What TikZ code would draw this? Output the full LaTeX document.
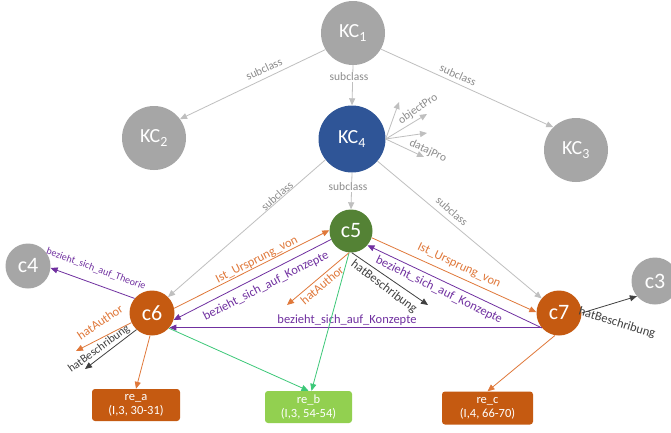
\documentclass[tikz,border=0pt]{standalone}
\usepackage{fontspec}
\setmainfont{Carlito}
\usetikzlibrary{arrows.meta}
\definecolor{kcgrey}{HTML}{A6A6A6}
\definecolor{kcblue}{HTML}{2F5597}
\definecolor{cgreen}{HTML}{548235}
\definecolor{corange}{HTML}{C55A11}
\definecolor{lgreen}{HTML}{92D050}
\definecolor{subgrey}{HTML}{BFBFBF}
\definecolor{sublbl}{HTML}{8C8C8C}
\definecolor{eorange}{HTML}{E0783A}
\definecolor{epurple}{HTML}{7030A0}
\definecolor{edark}{HTML}{404040}
\definecolor{egreen}{HTML}{3CC878}
\begin{document}
\begin{tikzpicture}[x=1pt,y=-1pt,
  kc/.style={circle, fill=kcgrey, text=white, minimum size=64pt, inner sep=0pt, font=\fontsize{20}{20}\selectfont},
  cn/.style={circle, text=white, minimum size=45pt, inner sep=0pt, font=\fontsize{22}{22}\selectfont},
  rbox/.style={rounded corners=3pt, text=white, minimum width=88pt, minimum height=32pt, inner sep=1pt, align=center, font=\fontsize{12.5}{14}\selectfont},
  tip/.style={-{Triangle[length=7pt,width=6pt]}},
  sub/.style={draw=subgrey, line width=0.8pt, tip},
  eor/.style={draw=eorange, line width=0.8pt, tip},
  epu/.style={draw=epurple, line width=0.8pt, tip},
  edk/.style={draw=edark, line width=0.8pt, tip},
  egr/.style={draw=egreen, line width=0.8pt, tip},
  lsub/.style={text=sublbl, inner sep=1pt, font=\fontsize{11.5}{11.5}\selectfont},
  lor/.style={text=eorange, inner sep=1pt, font=\fontsize{12.5}{12.5}\selectfont},
  lpu/.style={text=epurple, inner sep=1pt, font=\fontsize{12.5}{12.5}\selectfont},
  ldk/.style={text=edark, inner sep=1pt, font=\fontsize{12.5}{12.5}\selectfont}
]
\useasboundingbox (0,0) rectangle (671,432);
\fill[white] (0,0) rectangle (671,432);

% nodes
\node[kc] (KC1) at (353,33) {KC\textsubscript{1}};
\node[kc] (KC2) at (154,138) {KC\textsubscript{2}};
\node[kc] (KC3) at (576,150) {KC\textsubscript{3}};
\node[kc, fill=kcblue, minimum size=67pt] (KC4) at (352,139) {KC\textsubscript{4}};
\node[cn, fill=cgreen, minimum size=43pt] (c5) at (351,231) {c5};
\node[cn, fill=kcgrey] (c4) at (28,266) {c4};
\node[cn, fill=corange] (c6) at (152,313) {c6};
\node[cn, fill=corange] (c7) at (559,313) {c7};
\node[cn, fill=kcgrey, minimum size=47pt] (c3) at (655,281) {c3};
\node[rbox, fill=corange] (rea) at (136,405) {re\_a\\(I,3, 30-31)};
\node[rbox, fill=lgreen, minimum width=87pt] (reb) at (308.5,407) {re\_b\\(I,3, 54-54)};
\node[rbox, fill=corange, minimum width=91pt, minimum height=33pt] (rec) at (487.5,408) {re\_c\\(I,4, 66-70)};

% free ends
\coordinate (op1) at (399,102);
\coordinate (op2) at (427,114);
\coordinate (dp1) at (427,133);
\coordinate (dp2) at (424,157);
\coordinate (a6) at (76,351);
\coordinate (b6) at (85,369);
\coordinate (a5) at (287,305);
\coordinate (b5) at (428,305);

% subclass edges
\draw[sub] (KC1.211) -- (KC2.36);
\draw[sub] (KC1.-30) -- (KC3.135);
\draw[sub] (KC1.south) -- (KC4.north);
\draw[sub] (KC4.218) -- (c6.45);
\draw[sub] (KC4.south) -- (c5.north);
\draw[sub] (KC4.-41) -- (c7.140);
\node[lsub, rotate=25] (ls1) at (264,69) {subclass};
\node[lsub, rotate=-24] (ls2) at (458,75) {subclass};
\node[lsub, fill=white] (ls3) at (349,77) {subclass};
\node[lsub, rotate=42] (ls4) at (277,196) {subclass};
\node[lsub, fill=white] (ls5) at (348,187) {subclass};
\node[lsub, rotate=-42] (ls6) at (452,211) {subclass};

% KC4 properties
\draw[sub] (KC4.east) -- (op1);
\draw[sub] (KC4.east) -- (op2);
\draw[sub] (KC4.east) -- (dp1);
\draw[sub] (KC4.east) -- (dp2);
\node[lsub, rotate=35] (lop) at (418,109) {objectPro};
\node[lsub, rotate=-25] (ldp) at (428,151) {datajPro};

% c6 relations
\draw[epu] (c6.140) -- (c4.-5);
\node[text=epurple, inner sep=1pt, font=\fontsize{10}{10}\selectfont, rotate=-20] (lth) at (96,269) {bezieht\_sich\_auf\_Theorie};
\draw[eor] (c6.12) -- (c5.178);
\node[lor, rotate=27] (liu1) at (257,260) {Ist\_Ursprung\_von};
\draw[epu] (c5.203) -- (c6.-18);
\node[lpu, rotate=27] (lbk1) at (266,286) {bezieht\_sich\_auf\_Konzepte};
\draw[epu] (c7.220) -- (c6.-40);
\node[lpu] (lbk2) at (347,320) {bezieht\_sich\_auf\_Konzepte};
\draw[eor] (c6.205) -- (a6);
\node[lor, rotate=34] (lha6) at (100,322) {hatAuthor};
\draw[edk] (c6.227) -- (b6);
\node[ldk, rotate=36, font=\fontsize{11.5}{11.5}\selectfont] (lhb6) at (99,349) {hatBeschribung};
\draw[eor] (c6.-95) -- (rea.north);
\draw[egr] (c6.-42) -- (reb.north);

% c5 relations
\draw[egr] (c5.-95) -- ([xshift=3pt]reb.north);
\draw[eor] (c5.-95) -- (a5);
\node[lor, rotate=40] (lha5) at (322,285) {hatAuthor};
\draw[edk] (c5.-88) -- (b5);
\node[ldk, rotate=-37] (lhb5) at (384,287) {hatBeschribung};
\draw[eor] (c5.-18) -- (c7.178);
\node[lor, rotate=-25] (liu2) at (459,266) {Ist\_Ursprung\_von};
\draw[epu] (c7.221) -- (c5.-41);
\node[lpu, rotate=-26] (lbk3) at (439,290) {bezieht\_sich\_auf\_Konzepte};

% c7 relations
\draw[edk] (c7.0) -- (c3.220);
\node[ldk, rotate=-17] (lhb7) at (617,323) {hatBeschribung};
\draw[eor] (c7.-100) -- (rec.north);
\end{tikzpicture}
\end{document}
